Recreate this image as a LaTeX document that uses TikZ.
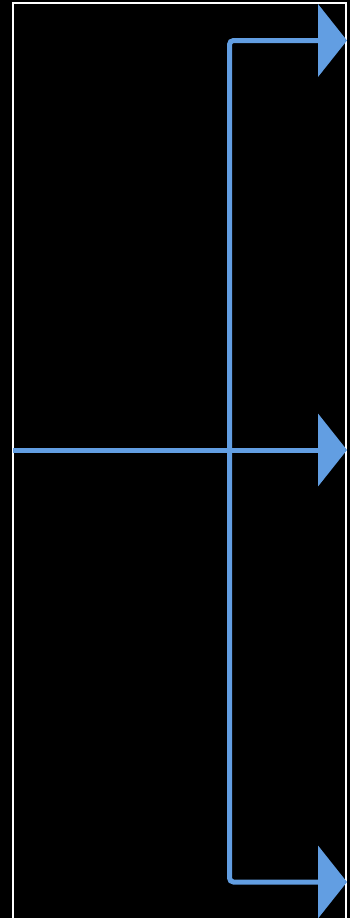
\documentclass[tikz,border=0pt]{standalone}
\usetikzlibrary{arrows.meta,positioning}
\definecolor{flowblue}{RGB}{98,158,226}

\begin{document}
\begin{tikzpicture}[x=1pt, y=-1pt,
    flow/.style={draw=flowblue, line width=5pt, rounded corners=4pt, -{Triangle[length=29pt, width=72pt]}}]
    % Background and frame
    \useasboundingbox (0,0) rectangle (350,918);
    \clip (0,0) rectangle (350,918);
    \fill[black] (0,0) rectangle (350,918);
    \draw[white, line width=2pt] (13,925) -- (13,3) -- (346,3) -- (346,925);

    % Split points
    \coordinate (in) at (13,450);
    \coordinate (fork) at (229.5,450);
    \coordinate (outtop) at (347,40.5);
    \coordinate (outmid) at (347,450);
    \coordinate (outbot) at (347,882);

    % Branches
    \draw[flow] (in) -- (outmid);
    \draw[flow] (fork) |- (outtop);
    \draw[flow] (fork) |- (outbot);
\end{tikzpicture}
\end{document}
